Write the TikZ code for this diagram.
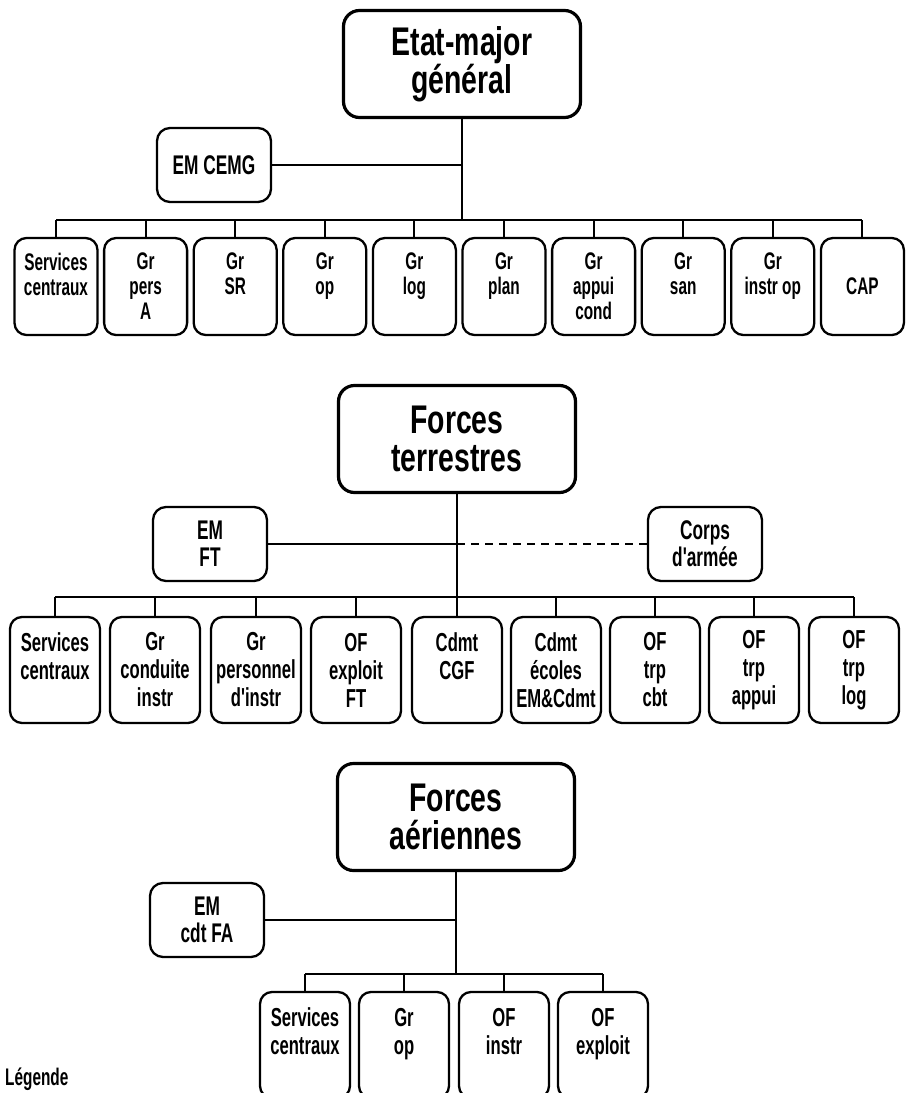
\documentclass[tikz,border=0pt]{standalone}
\usepackage{fontspec}
\setmainfont{Liberation Sans}
\newfontfamily\boxfont[FakeStretch=0.64]{Liberation Sans}
\newfontfamily\headfont[FakeStretch=0.71]{Liberation Sans}
\usetikzlibrary{positioning}

\begin{document}
\begin{tikzpicture}[x=1pt,y=-1pt,
	head/.style={draw,line width=3.2pt,rounded corners=16pt,minimum width=237pt,minimum height=107pt,align=center,inner sep=2pt,font=\headfont\bfseries\fontsize{40}{38}\selectfont},
	side/.style={draw,line width=2.3pt,rounded corners=13pt,minimum width=114pt,minimum height=74pt,align=center,inner sep=2pt,font=\boxfont\bfseries\fontsize{27}{27}\selectfont},
	sbox/.style={draw,line width=2.3pt,rounded corners=12pt,minimum width=83pt,minimum height=97pt,align=center,inner sep=2pt,font=\boxfont\bfseries\fontsize{24}{25}\selectfont},
	mbox/.style={draw,line width=2.3pt,rounded corners=12pt,minimum width=90pt,minimum height=106pt,align=center,inner sep=2pt,font=\boxfont\bfseries\fontsize{26}{28}\selectfont},
	link/.style={line width=2pt}]
		\clip (0,0) rectangle (909,1093);
		
		% Etat-major general
		\node[head] (eg) at (462,64) {Etat-major\\général};
		\node[side] (cemg) at (214,165) {EM CEMG};
		\coordinate (b1) at (462,220);
		\node[sbox] (s1) at (56,286.5) {Services\\centraux\\\mbox{}};
		\node[sbox] (s2) at (145.6,286.5) {Gr\\pers\\A};
		\node[sbox] (s3) at (235.2,286.5) {Gr\\SR\\\mbox{}};
		\node[sbox] (s4) at (324.8,286.5) {Gr\\op\\\mbox{}};
		\node[sbox] (s5) at (414.4,286.5) {Gr\\log\\\mbox{}};
		\node[sbox] (s6) at (504,286.5) {Gr\\plan\\\mbox{}};
		\node[sbox] (s7) at (593.6,286.5) {Gr\\appui\\cond};
		\node[sbox] (s8) at (683.2,286.5) {Gr\\san\\\mbox{}};
		\node[sbox] (s9) at (772.8,286.5) {Gr\\instr op\\\mbox{}};
		\node[sbox] (s10) at (862.4,286.5) {CAP};
		
		\draw[link] (eg) -- (b1);
		\draw[link] (cemg) -- (cemg -| eg);
		\draw[link] (s1 |- b1) -- (s10 |- b1);
		\draw[link] (s1) -- (s1 |- b1);
		\draw[link] (s2) -- (s2 |- b1);
		\draw[link] (s3) -- (s3 |- b1);
		\draw[link] (s4) -- (s4 |- b1);
		\draw[link] (s5) -- (s5 |- b1);
		\draw[link] (s6) -- (s6 |- b1);
		\draw[link] (s7) -- (s7 |- b1);
		\draw[link] (s8) -- (s8 |- b1);
		\draw[link] (s9) -- (s9 |- b1);
		\draw[link] (s10) -- (s10 |- b1);
		
		% Forces terrestres
		\node[head] (ft) at (457,439) {Forces\\terrestres};
		\node[side] (emft) at (210,544) {EM\\FT};
		\node[side] (corps) at (705,544) {Corps\\d'armée};
		\coordinate (b2) at (457,597);
		\node[mbox] (m1) at (55,670) {Services\\centraux\\\mbox{}};
		\node[mbox] (m2) at (155,670) {Gr\\conduite\\instr};
		\node[mbox] (m3) at (256,670) {Gr\\personnel\\d'instr};
		\node[mbox] (m4) at (356,670) {OF\\exploit\\FT};
		\node[mbox] (m5) at (457,670) {Cdmt\\CGF\\\mbox{}};
		\node[mbox] (m6) at (556,670) {Cdmt\\écoles\\EM\&Cdmt};
		\node[mbox] (m7) at (655,670) {OF\\trp\\cbt};
		\node[mbox] (m8) at (754,670) {OF\\trp\\appui};
		\node[mbox] (m9) at (854,670) {OF\\trp\\log};
		
		\draw[link] (ft) -- (m5);
		\draw[link] (emft) -- (emft -| ft);
		\draw[link,dash pattern=on 8pt off 6pt] (corps) -- (corps -| ft);
		\draw[link] (m1 |- b2) -- (m9 |- b2);
		\draw[link] (m1) -- (m1 |- b2);
		\draw[link] (m2) -- (m2 |- b2);
		\draw[link] (m3) -- (m3 |- b2);
		\draw[link] (m4) -- (m4 |- b2);
		\draw[link] (m6) -- (m6 |- b2);
		\draw[link] (m7) -- (m7 |- b2);
		\draw[link] (m8) -- (m8 |- b2);
		\draw[link] (m9) -- (m9 |- b2);
		
		% Forces aeriennes
		\node[head] (fa) at (456,817) {Forces\\aériennes};
		\node[side] (emfa) at (207,920) {EM\\cdt FA};
		\coordinate (b3) at (456,974);
		\node[mbox] (a1) at (305,1045) {Services\\centraux\\\mbox{}};
		\node[mbox] (a2) at (404,1045) {Gr\\op\\\mbox{}};
		\node[mbox] (a3) at (504,1045) {OF\\instr\\\mbox{}};
		\node[mbox] (a4) at (603,1045) {OF\\exploit\\\mbox{}};
		
		\draw[link] (fa) -- (b3);
		\draw[link] (emfa) -- (emfa -| fa);
		\draw[link] (a1 |- b3) -- (a4 |- b3);
		\draw[link] (a1) -- (a1 |- b3);
		\draw[link] (a2) -- (a2 |- b3);
		\draw[link] (a3) -- (a3 |- b3);
		\draw[link] (a4) -- (a4 |- b3);
		
		\node[anchor=south west,inner sep=0pt,font=\boxfont\bfseries\fontsize{24}{24}\selectfont] (leg) at (5,1091) {Légende};
		\end{tikzpicture}
\end{document}
